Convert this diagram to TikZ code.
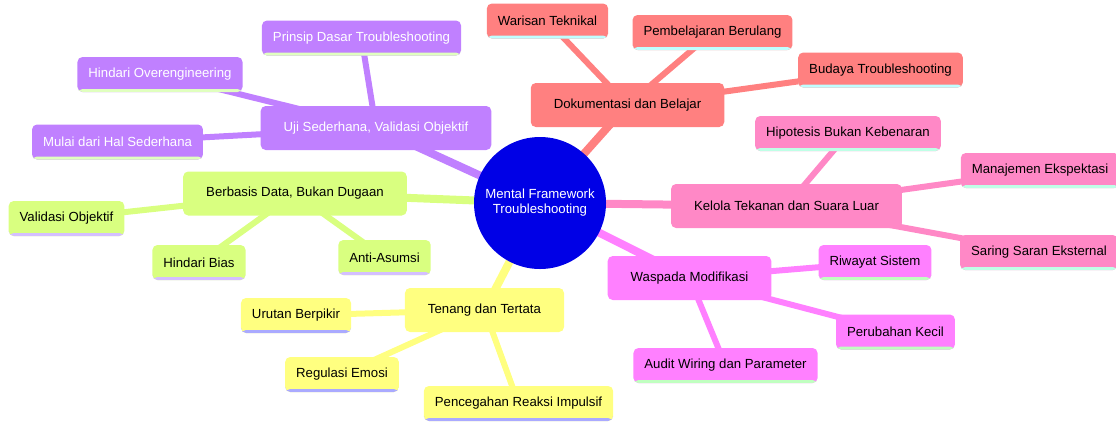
\documentclass[tikz,border=0pt]{standalone}
\usepackage{fontspec}
\setmainfont{Liberation Sans}
\usepackage{xcolor}
\usetikzlibrary{backgrounds}

\definecolor{rootblue}{HTML}{0000E6}
\definecolor{secred}{HTML}{FF8080}
\definecolor{secpink}{HTML}{FF88C6}
\definecolor{secmag}{HTML}{FF80FF}
\definecolor{secyel}{HTML}{FFFF80}
\definecolor{secgrn}{HTML}{D9FF80}
\definecolor{secpur}{HTML}{C080FF}
\definecolor{redline}{HTML}{BFFFFF}
\definecolor{pinkline}{HTML}{BFFFE6}
\definecolor{magline}{HTML}{C0FFC0}
\definecolor{yelline}{HTML}{AAAAFF}
\definecolor{grnline}{HTML}{D4BFFF}
\definecolor{purline}{HTML}{E0FFBF}

\begin{document}
\begin{tikzpicture}[
    x=1pt, y=-1pt,
    font=\fontsize{13.2}{15}\selectfont,
    topic/.style={rounded corners=5pt, minimum height=44pt, inner xsep=23pt, align=center},
    leaf/.style={rounded corners=5pt, minimum height=35pt, inner xsep=11pt,
        path picture={\fill[#1] (path picture bounding box.south west) rectangle ([yshift=3pt]path picture bounding box.south east);}},
    link/.style={line width=8pt},
    twig/.style={line width=6pt}
]
    \useasboundingbox (0,0) rectangle (1116,421);

    % Root
    \node[circle, fill=rootblue, text=white, minimum size=132pt, align=center] (root) at (540,203)
        {Mental Framework\\Troubleshooting};

    % Uji Sederhana
    \node[topic, fill=secpur, text=white] (uji) at (376,128) {Uji Sederhana, Validasi Objektif};
    \node[leaf=purline, fill=secpur, text=white] (prinsip) at (361.5,38) {Prinsip Dasar Troubleshooting};
    \node[leaf=purline, fill=secpur, text=white] (overeng) at (160,74.5) {Hindari Overengineering};
    \node[leaf=purline, fill=secpur, text=white] (mulai) at (117.5,142) {Mulai dari Hal Sederhana};

    % Berbasis Data
    \node[topic, fill=secgrn] (data) at (295,193.5) {Berbasis Data, Bukan Dugaan};
    \node[leaf=grnline, fill=secgrn] (validasi) at (66.5,218.5) {Validasi Objektif};
    \node[leaf=grnline, fill=secgrn] (bias) at (199,262.5) {Hindari Bias};
    \node[leaf=grnline, fill=secgrn] (asumsi) at (384.5,257.5) {Anti-Asumsi};

    % Tenang dan Tertata
    \node[topic, fill=secyel] (tenang) at (484.5,310) {Tenang dan Tertata};
    \node[leaf=yelline, fill=secyel] (urutan) at (296,315.5) {Urutan Berpikir};
    \node[leaf=yelline, fill=secyel] (emosi) at (342,374.5) {Regulasi Emosi};
    \node[leaf=yelline, fill=secyel] (impulsif) at (518.5,403.5) {Pencegahan Reaksi Impulsif};

    % Dokumentasi
    \node[topic, fill=secred] (doku) at (627.5,105) {Dokumentasi dan Belajar};
    \node[leaf=redline, fill=secred] (warisan) at (547.5,21) {Warisan Teknikal};
    \node[leaf=redline, fill=secred] (berulang) at (712.5,32.5) {Pembelajaran Berulang};
    \node[leaf=redline, fill=secred] (budaya) at (880.5,70) {Budaya Troubleshooting};

    % Kelola Tekanan
    \node[topic, fill=secpink] (kelola) at (786.5,206) {Kelola Tekanan dan Suara Luar};
    \node[leaf=pinkline, fill=secpink] (hipotesis) at (848,133.5) {Hipotesis Bukan Kebenaran};
    \node[leaf=pinkline, fill=secpink] (ekspektasi) at (1040,170.5) {Manajemen Ekspektasi};
    \node[leaf=pinkline, fill=secpink] (saring) at (1039,252.5) {Saring Saran Eksternal};

    % Waspada Modifikasi
    \node[topic, fill=secmag] (waspada) at (689.5,278) {Waspada Modifikasi};
    \node[leaf=magline, fill=secmag] (riwayat) at (875,262.5) {Riwayat Sistem};
    \node[leaf=magline, fill=secmag] (kecil) at (895.5,332) {Perubahan Kecil};
    \node[leaf=magline, fill=secmag] (audit) at (725.5,365.5) {Audit Wiring dan Parameter};

    % Edges
    \begin{scope}[on background layer]
        \draw[link, secpur] (root.center) -- (uji.center);
        \draw[link, secgrn] (root.center) -- (data.center);
        \draw[link, secyel] (root.center) -- (tenang.center);
        \draw[link, secred] (root.center) -- (doku.center);
        \draw[link, secpink] (root.center) -- (kelola.center);
        \draw[link, secmag] (root.center) -- (waspada.center);

        \draw[twig, secpur] (uji.center) -- (prinsip.center);
        \draw[twig, secpur] (uji.center) -- (overeng.center);
        \draw[twig, secpur] (uji.center) -- (mulai.center);
        \draw[twig, secgrn] (data.center) -- (validasi.center);
        \draw[twig, secgrn] (data.center) -- (bias.center);
        \draw[twig, secgrn] (data.center) -- (asumsi.center);
        \draw[twig, secyel] (tenang.center) -- (urutan.center);
        \draw[twig, secyel] (tenang.center) -- (emosi.center);
        \draw[twig, secyel] (tenang.center) -- (impulsif.center);
        \draw[twig, secred] (doku.center) -- (warisan.center);
        \draw[twig, secred] (doku.center) -- (berulang.center);
        \draw[twig, secred] (doku.center) -- (budaya.center);
        \draw[twig, secpink] (kelola.center) -- (hipotesis.center);
        \draw[twig, secpink] (kelola.center) -- (ekspektasi.center);
        \draw[twig, secpink] (kelola.center) -- (saring.center);
        \draw[twig, secmag] (waspada.center) -- (riwayat.center);
        \draw[twig, secmag] (waspada.center) -- (kecil.center);
        \draw[twig, secmag] (waspada.center) -- (audit.center);
    \end{scope}
\end{tikzpicture}
\end{document}
